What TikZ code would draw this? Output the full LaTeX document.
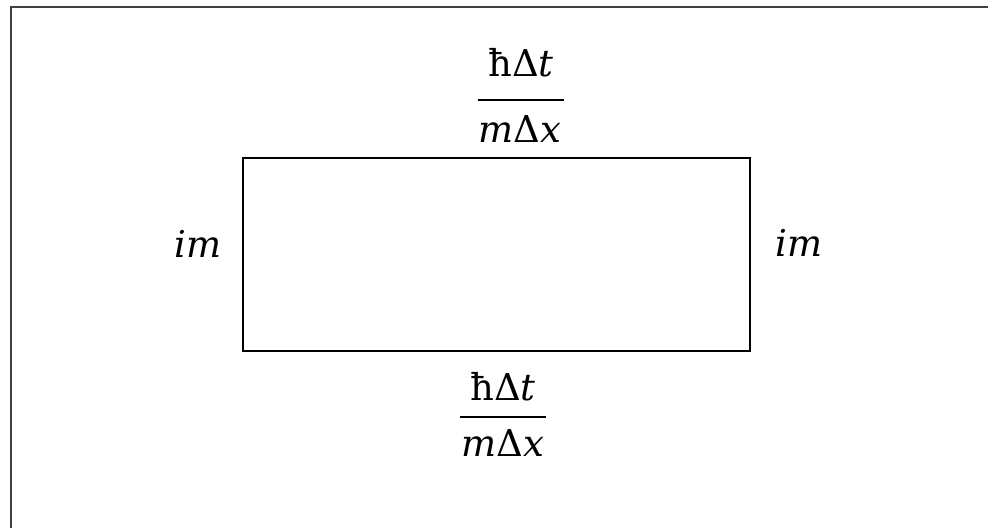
\documentclass[tikz,border=0pt]{standalone}
\usepackage{fontspec}
\newfontfamily\eqfont{DejaVu Serif}
\begin{document}
\begin{tikzpicture}[x=0.5pt,y=-0.5pt,
  lbl/.style={inner sep=0pt,font=\eqfont\fontsize{18.5}{22}\selectfont,anchor=base},
  frac bar/.style={line width=1.1pt},
  boxline/.style={line width=1pt,line join=miter}]
\useasboundingbox (0,0) rectangle (988,527);
\clip (0,0) rectangle (988,527);
\fill[white] (0,0) rectangle (988,527);
\draw[line width=1pt,black!75] (11,540) -- (11,7) -- (1000,7);
% rectangle
\coordinate (tl) at (243,158);
\coordinate (br) at (750,351);
\draw[boxline] (tl) rectangle (br);
% top fraction
\node[lbl] (tnum) at (521,76) {ħΔ\textit{t}};
\coordinate (tb1) at (478,100);
\coordinate (tb2) at (564,100);
\draw[frac bar] (tb1) -- (tb2);
\node[lbl] (tden) at (520,142) {\textit{m}Δ\textit{x}};
% bottom fraction
\node[lbl] (bnum) at (503,400) {ħΔ\textit{t}};
\coordinate (bb1) at (460,417);
\coordinate (bb2) at (546,417);
\draw[frac bar] (bb1) -- (bb2);
\node[lbl] (bden) at (503,456) {\textit{m}Δ\textit{x}};
% side labels
\node[lbl] (lim) at (198,257) {\textit{im}};
\node[lbl] (rim) at (799,256) {\textit{im}};
\end{tikzpicture}
\end{document}
